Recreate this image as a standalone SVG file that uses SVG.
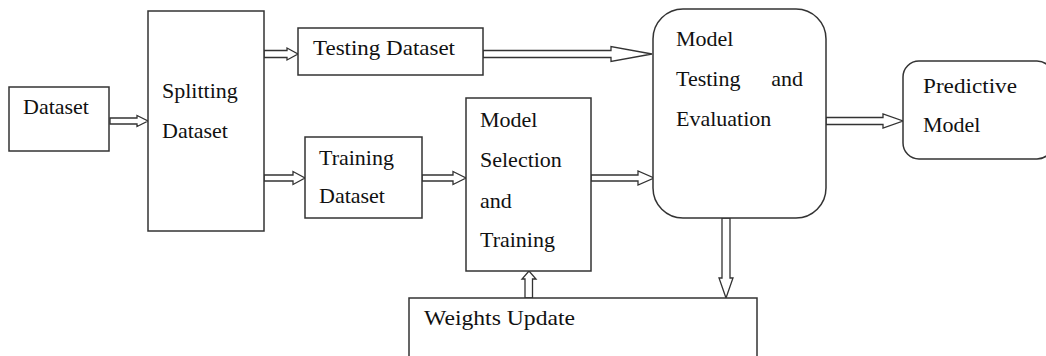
<svg xmlns="http://www.w3.org/2000/svg" width="1046" height="356" viewBox="0 0 1046 356">
<style>
.box{fill:#fff;stroke:#333;stroke-width:1.5}
.arr{fill:#fff;stroke:#333;stroke-width:1.3;stroke-linejoin:miter}
.t{font-family:'Liberation Serif','DejaVu Serif',serif;font-size:22px;fill:#111}
</style>
<rect width="1046" height="356" fill="#fff"/>
<g id="connectors">
<polygon class="arr" points="110,118 137,118 137,115.5 148,121 137,126.5 137,124 110,124"/>
<polygon class="arr" points="264,50.5 287,50.5 287,48 298,54 287,60 287,57.5 264,57.5"/>
<polygon class="arr" points="483,50.5 611,50.5 611,46.5 652,54 611,61.5 611,57.5 483,57.5"/>
<polygon class="arr" points="264,175 293,175 293,171.5 305,178 293,184.5 293,181 264,181"/>
<polygon class="arr" points="422,175 453,175 453,171.5 466,178 453,184.5 453,181 422,181"/>
<polygon class="arr" points="591,175 638,175 638,171 654,178 638,185 638,181 591,181"/>
<polygon class="arr" points="826,117.5 883,117.5 883,114 903,121 883,128 883,124.5 826,124.5"/>
<polygon class="arr" points="722,218 722,278 719,278 726,298 733,278 730,278 730,218"/>
<polygon class="arr" points="525,298 525,279 522,279 529,271 536,279 532.5,279 532.5,298"/>
</g>
<g class="t" font-family="Liberation Serif, serif">
<g id="dataset">
<rect class="box" x="9" y="87" width="100" height="64"/>
<text x="23" y="114">Dataset</text>
</g>
<g id="splitting">
<rect class="box" x="148" y="11" width="116" height="220"/>
<text x="162" y="98">Splitting</text>
<text x="162" y="138">Dataset</text>
</g>
<g id="testing-dataset">
<rect class="box" x="298" y="28" width="185" height="47"/>
<text x="313" y="55" textLength="142" lengthAdjust="spacingAndGlyphs">Testing Dataset</text>
</g>
<g id="training-dataset">
<rect class="box" x="305" y="137" width="117" height="81"/>
<text x="319" y="165">Training</text>
<text x="319" y="203">Dataset</text>
</g>
<g id="model-selection">
<rect class="box" x="466" y="98" width="125" height="173"/>
<text x="480" y="127">Model</text>
<text x="480" y="167">Selection</text>
<text x="480" y="208">and</text>
<text x="480" y="247">Training</text>
</g>
<g id="model-testing">
<rect class="box" x="653" y="9" width="173" height="209" rx="30" ry="30"/>
<text x="676" y="46">Model</text>
<text x="676" y="86">Testing</text>
<text x="803" y="86" text-anchor="end">and</text>
<text x="676" y="126">Evaluation</text>
</g>
<g id="predictive-model">
<rect class="box" x="903" y="61" width="150" height="98" rx="16" ry="16"/>
<text x="923" y="93" textLength="94" lengthAdjust="spacingAndGlyphs">Predictive</text>
<text x="923" y="132">Model</text>
</g>
<g id="weights-update">
<rect class="box" x="409" y="298" width="348" height="70"/>
<text x="424" y="325" textLength="151" lengthAdjust="spacingAndGlyphs">Weights Update</text>
</g>
</g>
</svg>
